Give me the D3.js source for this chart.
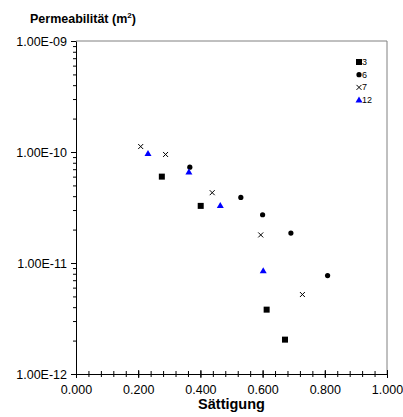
<!DOCTYPE html>
<html>
<head>
<meta charset="utf-8">
<script src="https://cdn.jsdelivr.net/npm/d3@7"></script>
<style>
  body { margin: 0; background: #fff; }
  svg text { font-family: "Liberation Sans", Arial, sans-serif; }
</style>
</head>
<body>
<div id="perm-chart"></div>
<script>
// series name -> [saettigung, permeabilitaet]
const series_names = ["3", "6", "7", "12"];
const series_3  = [[0.276, 6.0e-11], [0.401, 3.27e-11], [0.613, 3.8e-12], [0.672, 2.04e-12]];
const series_6  = [[0.366, 7.3e-11], [0.530, 3.9e-11], [0.600, 2.72e-11], [0.691, 1.86e-11], [0.809, 7.7e-12]];
const series_7  = [[0.208, 1.12e-10], [0.288, 9.5e-11], [0.438, 4.3e-11], [0.594, 1.79e-11], [0.728, 5.2e-12]];
const series_12 = [[0.2315, 9.7e-11], [0.363, 6.6e-11], [0.464, 3.3e-11], [0.602, 8.5e-12]];

const x_ticks = [0, 0.2, 0.4, 0.6, 0.8, 1.0];
const y_ticks = [1e-12, 1e-11, 1e-10, 1e-9];

class PermScatter {
	constructor(element_id) {
		const width = 403, height = 417;
		const plot = {left: 76, right: 387, top: 41, bottom: 374};

		const svg = d3.select("#" + element_id)
			.append("svg")
				.attr("width", width)
				.attr("height", height);

		const x_axis = d3.scaleLinear().domain([0, 1]).range([plot.left, plot.right]);
		const y_axis = d3.scaleLog().domain([1e-12, 1e-9]).range([plot.bottom, plot.top]);

		// grey frame on top and right
		svg.append("path")
			.attr("d", `M${plot.left},${plot.top}H${plot.right}V${plot.bottom}`)
			.attr("fill", "none")
			.attr("stroke", "#808080")
			.attr("stroke-width", 1);

		// Y minor ticks
		const minor_y = [];
		for (let e = -12; e < -9; e++) {
			for (let m = 2; m < 10; m++) minor_y.push(m * Math.pow(10, e));
		}
		svg.append("g")
			.attr("transform", `translate(${plot.left},0)`)
			.call(d3.axisLeft(y_axis).tickValues(minor_y).tickSize(3).tickFormat(""))
			.call(g => g.select(".domain").remove());

		// Y axis major
		const fmt = v => {
			const e = Math.round(Math.log10(v));
			return "1.00E-" + String(-e).padStart(2, "0");
		};
		svg.append("g")
			.attr("transform", `translate(${plot.left},0)`)
			.call(d3.axisLeft(y_axis).tickValues(y_ticks).tickSize(5).tickSizeOuter(0).tickFormat(fmt))
			.call(g => g.selectAll("text").attr("font-size", "12.5px").attr("x", -9).attr("fill", "#000"))
			.call(g => g.select(".domain").attr("stroke", "#000"));

		// X minor ticks (crossing the axis)
		const minor_x = d3.range(0, 1.0001, 0.04);
		svg.append("g")
			.attr("transform", `translate(0,${plot.bottom})`)
			.call(d3.axisBottom(x_axis).tickValues(minor_x).tickFormat(""))
			.call(g => g.select(".domain").remove())
			.call(g => g.selectAll("line").attr("y1", -3).attr("y2", 3));

		// X axis major
		svg.append("g")
			.attr("transform", `translate(0,${plot.bottom})`)
			.call(d3.axisBottom(x_axis).tickValues(x_ticks).tickSizeOuter(0).tickFormat(d3.format(".3f")))
			.call(g => g.select(".domain").attr("stroke", "#000"))
			.call(g => g.selectAll("line").attr("y1", -4).attr("y2", 4))
			.call(g => g.selectAll("text").attr("font-size", "12.5px").attr("y", 11).attr("fill", "#000"));

		// titles
		svg.append("text")
			.attr("x", 30).attr("y", 23)
			.attr("font-size", "12.5px").attr("font-weight", "bold")
			.html('Permeabilität (m<tspan dy="-5" font-size="8px">2</tspan><tspan dy="5">)</tspan>');

		svg.append("text")
			.attr("x", (plot.left + plot.right) / 2).attr("y", 409)
			.attr("text-anchor", "middle")
			.attr("font-size", "14.5px").attr("font-weight", "bold")
			.text("Sättigung");

		// markers
		const draw = {
			"3": (g, x, y) => g.append("rect").attr("x", x - 3).attr("y", y - 3).attr("width", 6).attr("height", 6).attr("fill", "#000"),
			"6": (g, x, y) => g.append("circle").attr("cx", x).attr("cy", y).attr("r", 2.6).attr("fill", "#000"),
			"7": (g, x, y) => g.append("path").attr("d", `M${x-2.5},${y-2.5}L${x+2.5},${y+2.5}M${x-2.5},${y+2.5}L${x+2.5},${y-2.5}`).attr("stroke", "#000").attr("stroke-width", 1),
			"12": (g, x, y) => g.append("path").attr("d", `M${x},${y-3.5}L${x+3.5},${y+2.5}L${x-3.5},${y+2.5}Z`).attr("fill", "#0000ff")
		};
		const all_series = {"3": series_3, "6": series_6, "7": series_7, "12": series_12};

		const points = svg.append("g");
		series_names.forEach(name => {
			all_series[name].forEach(d => draw[name](points, x_axis(d[0]), y_axis(d[1])));
		});

		// legend
		const legend = svg.append("g");
		series_names.forEach((name, i) => {
			const ly = 62 + i * 12.7;
			draw[name](legend, 359, ly);
			legend.append("text")
				.attr("x", 362).attr("y", ly + 3)
				.attr("font-size", "9px")
				.text(name);
		});
	}
}

function whenDocumentLoaded(action) {
	if (document.readyState === "loading") {
		document.addEventListener("DOMContentLoaded", action);
	} else {
		action();
	}
}

whenDocumentLoaded(() => {
	plot_object = new PermScatter('perm-chart');
});
</script>
</body>
</html>
